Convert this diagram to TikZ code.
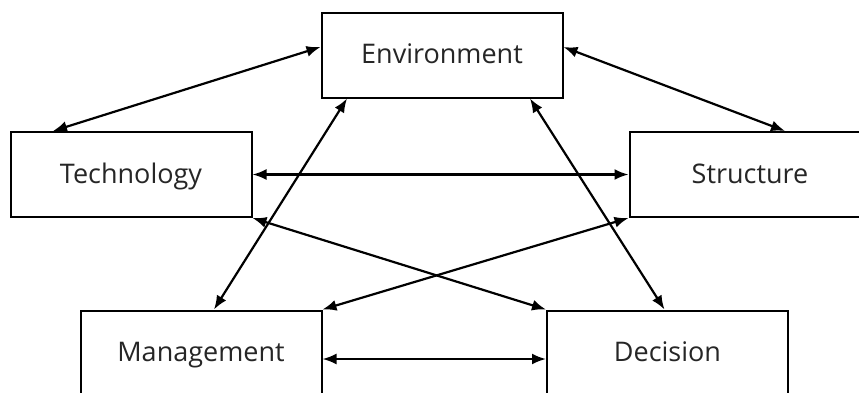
\documentclass[tikz,border=0pt]{standalone}
\usepackage{fontspec}
\setmainfont{Open Sans}
\usepackage{tikz}
\usetikzlibrary{arrows.meta}

\begin{document}
\begin{tikzpicture}[x=1pt,y=-1pt,
		factor/.style={draw=black,line width=2pt,minimum width=241pt,minimum height=85pt,inner sep=0pt,text height=19pt,text depth=2pt,text=black!85,font=\fontsize{27}{30}\selectfont},
		link/.style={{Latex[length=14pt,width=11pt]}-{Latex[length=14pt,width=11pt]},black,line width=2.2pt}]
			\clip (0,0) rectangle (859,392);
			\fill[white] (0,0) rectangle (859,392);

			\node[factor] (env) at (442,55){Environment};
			\node[factor] (tech) at (131,174.5){Technology};
			\node[factor] (struct) at (750,174.5){Structure};
			\node[factor] (mgmt) at (201,353){Management};
			\node[factor] (dec) at (667.5,353){Decision};

			\draw[link]([yshift=8pt]env.west) -- ([xshift=-78pt]tech.north);
			\draw[link]([yshift=8pt]env.east) -- ([xshift=35pt]struct.north);
			\draw[link](tech.east) -- (struct.west);
			\draw[link]([xshift=-95pt]env.south) -- ([xshift=13pt]mgmt.north);
			\draw[link]([xshift=88pt]env.south) -- ([xshift=-3pt]dec.north);
			\draw[link](tech.south east) -- (dec.north west);
			\draw[link](struct.south west) -- (mgmt.north east);
			\draw[link]([yshift=-6pt]mgmt.east) -- ([yshift=-6pt]dec.west);
		\end{tikzpicture}
\end{document}
